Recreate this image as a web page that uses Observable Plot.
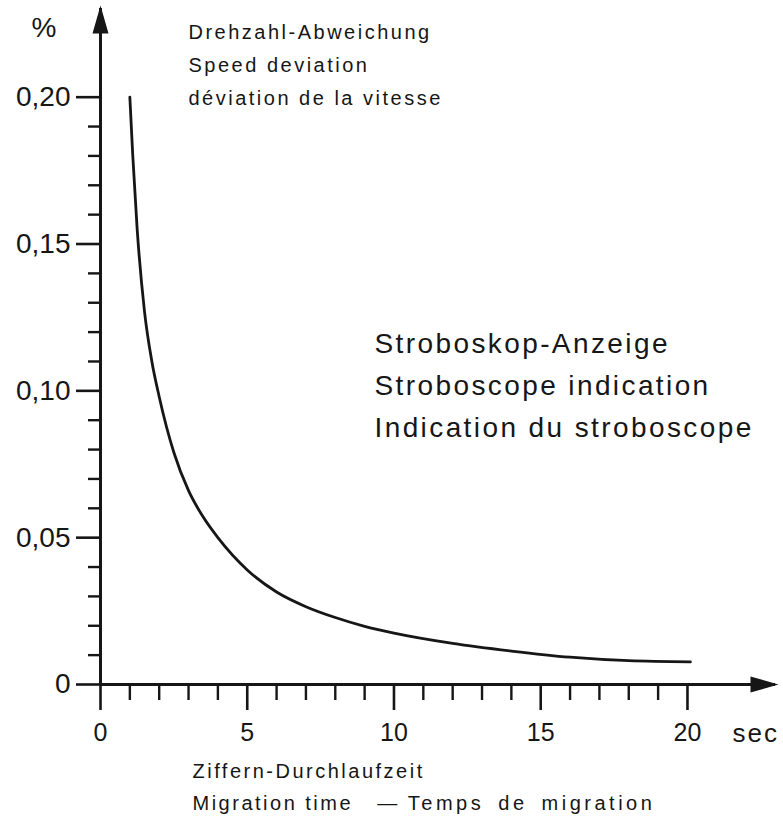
<!DOCTYPE html>
<html>
<head>
<meta charset="utf-8">
<script src="https://cdn.jsdelivr.net/npm/d3@7"></script>
<script src="https://cdn.jsdelivr.net/npm/@observablehq/plot@0.6"></script>
<style>
  html, body { margin: 0; padding: 0; background: #fff; }
  #chart { width: 783px; height: 818px; }
  #chart svg { white-space: pre; }
</style>
</head>
<body>
<div id="chart"></div>
<script>
// ---- data ----
const timeSec      = [1.0, 1.1, 1.25, 1.5, 1.75, 2.0, 2.5, 3.0, 3.5, 4.0, 5.0, 6.0, 7.0, 8.0, 9.0, 10.0, 12.0, 14.0, 16.0, 18.0, 20.1];
const deviationPct = [0.200, 0.180, 0.155, 0.127, 0.110, 0.098, 0.079, 0.066, 0.057, 0.050, 0.039, 0.0315, 0.0265, 0.0228, 0.0198, 0.0175, 0.0140, 0.0114, 0.0093, 0.0081, 0.0077];

const xMajorTicks = [0, 5, 10, 15, 20];
const xMajorLabels = ["0", "5", "10", "15", "20"];
const xMinorTicks = [1, 2, 3, 4, 6, 7, 8, 9, 11, 12, 13, 14, 16, 17, 18, 19];
const yMajorTicks = [0, 0.05, 0.10, 0.15, 0.20];
const yMajorLabels = ["0", "0,05", "0,10", "0,15", "0,20"];
const yMinorTicks = [0.01, 0.02, 0.03, 0.04, 0.06, 0.07, 0.08, 0.09, 0.11, 0.12, 0.13, 0.14, 0.16, 0.17, 0.18, 0.19];
const xAxisEnd = 23;
const yAxisEnd = 0.2302;

const yUnit = "%";
const xUnit = "sec";
const topNote = ["Drehzahl-Abweichung", "Speed deviation", "déviation de la vitesse"];
const curveNote = ["Stroboskop-Anzeige", "Stroboscope indication", "Indication du stroboscope"];
const xTitleDe = "Ziffern-Durchlaufzeit";
const xTitleEn = "Migration time";
const xTitleFr = "Temps de migration";

// ---- chart ----
const ink = "#161616";
const font = "'Liberation Sans', Arial, Helvetica, sans-serif";
const curveData = timeSec.map((t, i) => ({t, v: deviationPct[i]}));
const xTitleLine2 = xTitleEn + "\u00A0\u00A0\u00A0—\u00A0" + xTitleFr;

// elongated filled arrowhead, tip at origin pointing up
const arrowHead = {
  draw(ctx) {
    ctx.moveTo(0, -3);
    ctx.lineTo(-8, 25);
    ctx.lineTo(8, 25);
    ctx.closePath();
  }
};

const chart = Plot.plot({
  width: 783,
  height: 818,
  marginLeft: 100,
  marginRight: 8,
  marginTop: 8,
  marginBottom: 134,
  style: {fontFamily: font, color: ink, background: "#fff"},
  x: {domain: [0, xAxisEnd]},
  y: {domain: [0, yAxisEnd]},
  marks: [
    // axis lines
    Plot.ruleX([0], {y1: 0, y2: yAxisEnd, stroke: ink, strokeWidth: 3}),
    Plot.ruleY([0], {x1: 0, x2: xAxisEnd, stroke: ink, strokeWidth: 3}),
    Plot.dot([0], {x: 0, y: yAxisEnd, symbol: arrowHead, fill: ink, stroke: "none", r: 5}),
    Plot.dot([0], {x: xAxisEnd, y: 0, symbol: arrowHead, fill: ink, stroke: "none", r: 5, rotate: 90}),
    // y axis ticks
    Plot.axisY(yMinorTicks, {anchor: "left", tickSize: 12, strokeWidth: 2.4, stroke: ink, fill: "none", label: null}),
    Plot.axisY(yMajorTicks, {
      anchor: "left", tickSize: 24, tickPadding: 6, strokeWidth: 2.6, stroke: ink, fill: ink,
      fontSize: 28, label: null,
      tickFormat: d => yMajorLabels[yMajorTicks.indexOf(d)]
    }),
    // x axis ticks
    Plot.axisX(xMinorTicks, {anchor: "bottom", tickSize: 16, strokeWidth: 2.4, stroke: ink, fill: "none", label: null}),
    Plot.axisX(xMajorTicks, {
      anchor: "bottom", tickSize: 26, tickPadding: 13, strokeWidth: 2.6, stroke: ink, fill: ink,
      fontSize: 25, label: null,
      tickFormat: d => xMajorLabels[xMajorTicks.indexOf(d)]
    }),
    // curve
    Plot.line(curveData, {x: "t", y: "v", curve: "monotone-x", stroke: ink, strokeWidth: 2.8}),
    // texts
    Plot.text([yUnit], {frameAnchor: "top-left", textAnchor: "start", lineAnchor: "top", dx: -69, dy: 9, fontSize: 28, fill: ink}),
    Plot.text([xUnit], {frameAnchor: "bottom-left", textAnchor: "start", lineAnchor: "top", dx: 632, dy: 39, fontSize: 26, fill: ink}),
    Plot.text([topNote.join("\n")], {frameAnchor: "top-left", textAnchor: "start", lineAnchor: "top", dx: 88, dy: 6.6, fontSize: 20, lineHeight: 1.65, fill: ink}),
    Plot.text([curveNote.join("\n")], {frameAnchor: "top-left", textAnchor: "start", lineAnchor: "top", dx: 274, dy: 315, fontSize: 28, lineHeight: 1.5, fill: ink}),
    Plot.text([xTitleDe + "\n" + xTitleLine2], {frameAnchor: "bottom-left", textAnchor: "start", lineAnchor: "top", dx: 92, dy: 71, fontSize: 20, lineHeight: 1.6, fill: ink})
  ]
});

// wide tracking of the original print
chart.querySelectorAll("text").forEach(t => {
  const s = t.textContent;
  if (topNote.some(l => s.includes(l)) || s.includes(xTitleDe)) t.style.letterSpacing = "2.5px";
  else if (curveNote.some(l => s.includes(l))) t.style.letterSpacing = "2.4px";
  else if (s === xUnit) t.style.letterSpacing = "2px";
});
// the French part of the axis title is set a little wider in the original
chart.querySelectorAll("tspan").forEach(ts => {
  if (ts.textContent === xTitleLine2) {
    const head = xTitleLine2.slice(0, xTitleLine2.length - xTitleFr.length);
    ts.textContent = head;
    const fr = document.createElementNS("http://www.w3.org/2000/svg", "tspan");
    fr.textContent = xTitleFr;
    fr.style.letterSpacing = "3.5px";
    fr.style.wordSpacing = "5px";
    ts.appendChild(fr);
  }
});

document.getElementById("chart").appendChild(chart);
</script>
</body>
</html>
